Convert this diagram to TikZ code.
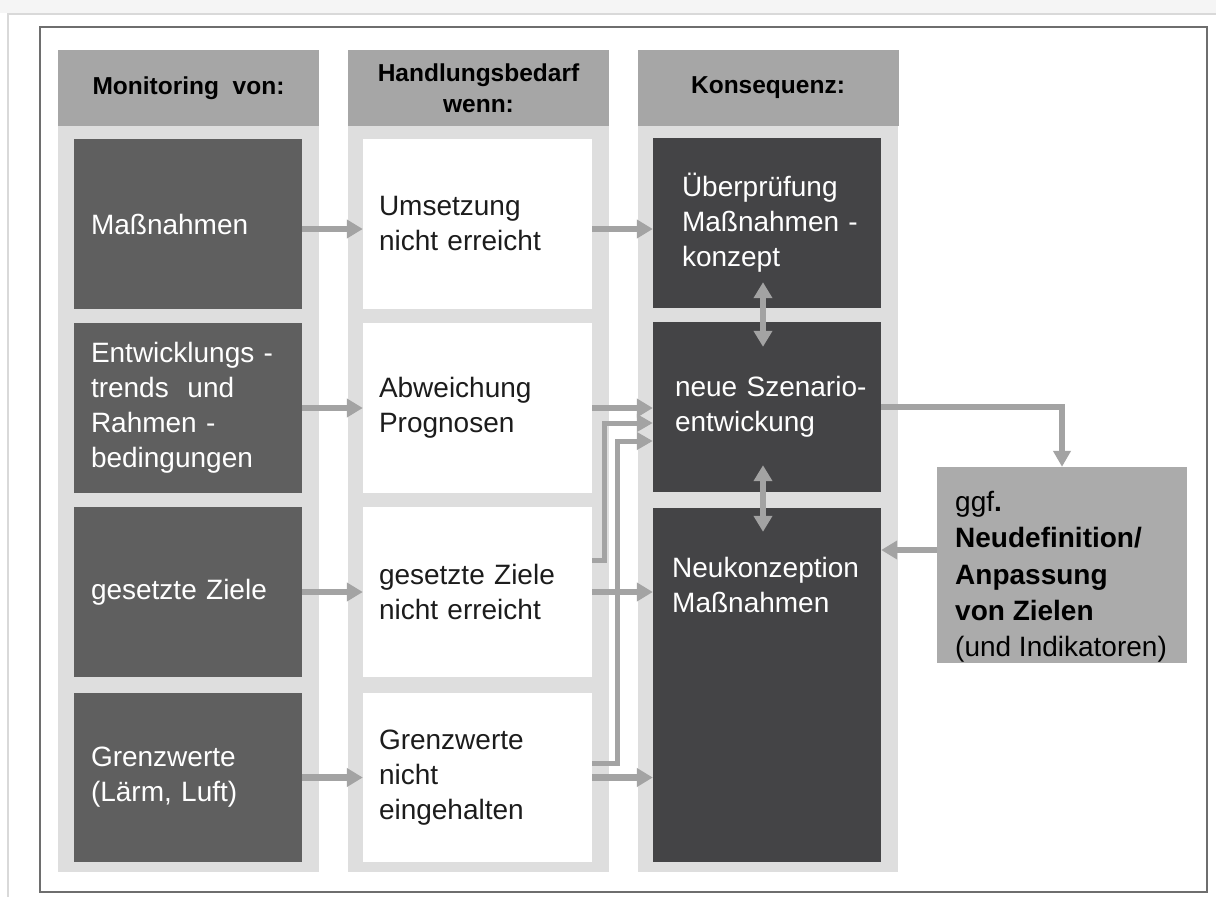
\documentclass[tikz,border=0pt]{standalone}
\usepackage{fontspec}
\setmainfont{Liberation Sans}
\usetikzlibrary{arrows.meta}
\definecolor{colbg}{HTML}{DEDEDE}
\definecolor{hdrgray}{HTML}{A6A6A6}
\definecolor{mongray}{HTML}{5F5F5F}
\definecolor{kgray}{HTML}{444446}
\definecolor{ggray}{HTML}{ABABAB}
\definecolor{arrgray}{HTML}{A3A3A3}
\definecolor{framec}{HTML}{6E6E6E}
\definecolor{txtdark}{HTML}{1C1C1C}
\tikzset{
  hdr/.style={fill=hdrgray, minimum width=261pt, minimum height=76pt, inner sep=0pt,
    font=\bfseries\fontsize{24.5}{31}\selectfont, align=center, text=black},
  bodyfont/.style={font=\fontsize{28}{35}\selectfont},
  mbox/.style={bodyfont, fill=mongray, minimum width=228pt, minimum height=170pt,
    inner xsep=17pt, inner ysep=0pt, text width=194pt, align=left, text=white},
  hbox/.style={bodyfont, fill=white, minimum width=229pt, minimum height=170pt,
    inner xsep=16pt, inner ysep=0pt, text width=197pt, align=left, text=txtdark},
  kbox/.style={bodyfont, fill=kgray, minimum width=228pt, minimum height=170pt,
    inner xsep=22pt, inner ysep=0pt, text width=184pt, align=left, text=white},
  arr/.style={draw=arrgray, line width=6.5pt, -{Triangle[width=18pt,length=16pt]}},
  elb/.style={draw=arrgray, line width=5pt, line join=miter, -{Triangle[width=17pt,length=16pt]}},
  darr/.style={draw=arrgray, line width=5.5pt, {Triangle[width=18pt,length=16pt]}-{Triangle[width=18pt,length=16pt]}},
}
\begin{document}
\begin{tikzpicture}[x=1pt,y=-1pt]
\useasboundingbox (0,0) rectangle (1216,897);
\fill[white] (0,0) rectangle (1216,897);
% card shadow
\fill[gray!8] (0,0) rectangle (1216,13);
\draw[gray!30, line width=2pt] (8,897) -- (8,14) -- (1216,14);
% frame
\draw[framec, line width=1.6pt] (40,27) rectangle (1207,892);
% column backgrounds
\fill[colbg] (58,126) rectangle (319,872);
\fill[colbg] (348,126) rectangle (609,872);
\fill[colbg] (638,126) rectangle (898,872);
% headers
\node[hdr] (H1) at (188.5,88) {Monitoring\ \ von:};
\node[hdr] (H2) at (478.5,88) {Handlungsbedarf\\wenn:};
\node[hdr] (H3) at (768,88) {Konsequenz:};
% column 1
\node[mbox] (m1) at (188,224) {Maßnahmen};
\node[mbox] (m2) at (188,408) {\mbox{Entwicklungs -}\\\mbox{trends\ \ und}\\\mbox{Rahmen -}\\bedingungen};
\node[mbox] (m3) at (188,592) {\mbox{gesetzte Ziele}};
\node[mbox, minimum height=169pt] (m4) at (188,777.5) {Grenzwerte\\\mbox{(Lärm, Luft)}};
% column 2
\node[hbox] (h1) at (477.5,224) {Umsetzung\\\mbox{nicht erreicht}};
\node[hbox] (h2) at (477.5,408) {Abweichung\\Prognosen};
\node[hbox] (h3) at (477.5,592) {\mbox{gesetzte Ziele}\\\mbox{nicht erreicht}};
\node[hbox, minimum height=169pt] (h4) at (477.5,777.5) {Grenzwerte\\nicht\\eingehalten};
% column 3
\node[kbox, inner xsep=29pt, text width=170pt] (k1) at (767,223) {\mbox{Überprüfung}\\\mbox{Maßnahmen -}\\konzept};
\node[kbox, inner xsep=22pt, text width=184pt] (k2) at (767,407) {\mbox{neue Szenario-}\\entwickung};
\node[kbox, minimum height=354pt] (k3) at (767,685) {};
\node[bodyfont, text=white, anchor=north west, inner sep=0pt, align=left] (k3t) at (672,557) {Neukonzeption\\Maßnahmen};
% ggf box
\node[fill=ggray, minimum width=250pt, minimum height=196pt, inner sep=0pt] (g) at (1062,565) {};
\node[font=\fontsize{28}{36.3}\selectfont, text=black, anchor=north west, inner sep=0pt, align=left] (gt) at (955,491)
  {ggf\textbf{.}\\\textbf{Neudefinition/}\\\textbf{Anpassung}\\\textbf{von Zielen}\\(und Indikatoren)};
% coordinates for elbows
\coordinate (c1) at (604,423);
\coordinate (c2) at (617,441);
% arrows column 1 -> column 2
\draw[arr] ([yshift=-5pt]m1.east) -- ([yshift=-5pt]h1.west);
\draw[arr] (m2.east) -- (h2.west);
\draw[arr] (m3.east) -- (h3.west);
\draw[arr] (m4.east) -- (h4.west);
% arrows column 2 -> column 3
\draw[arr] ([yshift=-5pt]h1.east) -- ([yshift=-5pt]h1.east -| k1.west);
\draw[arr] (h2.east) -- (h2.east -| k2.west);
\draw[elb] ([yshift=32pt]h3.east) -| (c1) -- (c1 -| k2.west);
\draw[elb] ([yshift=14pt]h4.east) -| (c2) -- (c2 -| k2.west);
\draw[arr] (h3.east) -- (h3.east -| k3.west);
\draw[arr] (h4.east) -- (h4.east -| k3.west);
% double arrows in column 3
\draw[darr] ([xshift=-4pt,yshift=26pt]k1.south) -- ([xshift=-4pt,yshift=-25pt]k2.north);
\draw[darr] ([xshift=-4pt,yshift=27pt]k2.south) -- ([xshift=-4pt,yshift=-24pt]k3.north);
% to and from ggf box
\draw[elb, line width=5.5pt] (k2.east) -| (g.north);
\draw[arr, line width=5.5pt] ([yshift=15pt]g.west) -- ([yshift=15pt]g.west -| k3.east);
\end{tikzpicture}
\end{document}
